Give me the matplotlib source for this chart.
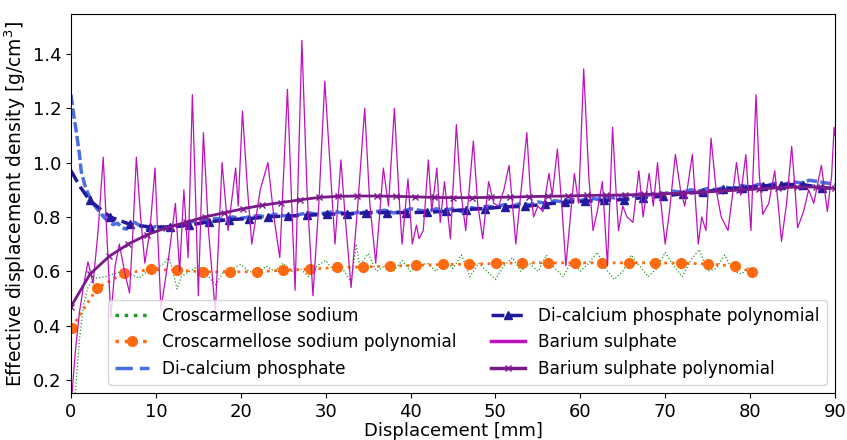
import matplotlib
matplotlib.use("Agg")
import matplotlib.pyplot as plt

# Croscarmellose sodium (raw trace)
cs_x = [0.5, 1.0, 1.5, 2.0, 2.5, 3, 4, 5, 6, 7, 8, 9, 10, 11, 11.5, 12, 12.5, 13, 14, 15,
        16, 17, 18, 19, 20, 21, 22, 23, 24, 25, 26, 27, 28, 29, 30, 31, 32, 33, 33.6, 34,
        35, 36, 37, 38, 39, 40, 41, 42, 43, 44, 45, 46, 47, 48, 49, 50, 51, 52, 53, 54,
        55, 56, 57, 58, 59, 60, 61, 62, 63, 64, 65, 66, 67, 68, 69, 70, 71, 72, 73, 74,
        75, 76, 77, 78, 79, 80]
cs_y = [0.15, 0.35, 0.48, 0.54, 0.565, 0.575, 0.58, 0.59, 0.60, 0.59, 0.575, 0.60, 0.61, 0.63, 0.655, 0.60, 0.535, 0.58, 0.60, 0.62,
        0.59, 0.55, 0.60, 0.61, 0.625, 0.60, 0.59, 0.62, 0.60, 0.63, 0.60, 0.61, 0.58, 0.62, 0.64, 0.60, 0.61, 0.56, 0.70, 0.62,
        0.665, 0.60, 0.62, 0.60, 0.64, 0.60, 0.62, 0.63, 0.60, 0.64, 0.61, 0.66, 0.58, 0.63, 0.60, 0.57, 0.62, 0.65, 0.60, 0.63,
        0.60, 0.66, 0.61, 0.58, 0.64, 0.60, 0.63, 0.67, 0.61, 0.57, 0.60, 0.66, 0.62, 0.58, 0.61, 0.67, 0.62, 0.58, 0.64, 0.68,
        0.60, 0.61, 0.66, 0.60, 0.59, 0.62]

# Croscarmellose sodium polynomial
csp_x = [0.1, 3.1, 6.2, 9.4, 12.5, 15.6, 18.7, 21.9, 25.0, 28.2, 31.3, 34.4, 37.6, 40.7, 43.8,
         46.9, 50.1, 53.1, 56.2, 59.4, 62.5, 65.7, 68.8, 71.9, 75.1, 78.2, 80.2]
csp_y = [0.393, 0.539, 0.592, 0.607, 0.604, 0.598, 0.598, 0.598, 0.604, 0.608, 0.614, 0.616, 0.619, 0.622, 0.625,
         0.626, 0.629, 0.631, 0.631, 0.631, 0.631, 0.631, 0.631, 0.630, 0.627, 0.619, 0.598]

# Di-calcium phosphate (raw trace)
dcp_x = [0, 0.3, 0.6, 1.0, 1.2, 1.6, 2.0, 2.6, 3.2, 4.0, 4.5, 5, 5.5, 6, 6.5, 7, 7.5, 8, 8.9, 9.5,
         10, 11, 12, 13, 14, 15, 16, 17, 18, 19, 20, 21, 22, 23, 24, 25, 26, 27, 28, 29,
         30, 31, 32, 33, 34, 35, 36, 37, 38, 39, 40, 41, 42, 43, 44, 45, 46, 47, 48, 49,
         50, 51, 52, 53, 54, 55, 56, 57, 58, 59, 60, 61, 62, 63, 64, 65, 66, 67, 68, 69,
         70, 71, 72, 73, 74, 75, 76, 77, 78, 79, 80, 81, 82, 83, 84, 85, 86, 87, 88, 89, 90]
dcp_y = [1.25, 1.18, 1.12, 1.03, 0.97, 0.92, 0.886, 0.85, 0.825, 0.795, 0.78, 0.772, 0.777, 0.76, 0.755, 0.77, 0.78, 0.77, 0.757, 0.76,
         0.765, 0.76, 0.77, 0.765, 0.78, 0.79, 0.785, 0.795, 0.79, 0.80, 0.795, 0.80, 0.805, 0.80, 0.81, 0.805, 0.80, 0.81, 0.815, 0.81,
         0.815, 0.82, 0.815, 0.81, 0.82, 0.815, 0.82, 0.825, 0.815, 0.82, 0.83, 0.825, 0.82, 0.83, 0.825, 0.83, 0.82, 0.835, 0.83, 0.84,
         0.835, 0.845, 0.84, 0.85, 0.845, 0.855, 0.85, 0.86, 0.855, 0.865, 0.86, 0.87, 0.865, 0.875, 0.87, 0.88, 0.875, 0.885, 0.88, 0.89,
         0.885, 0.895, 0.89, 0.90, 0.895, 0.905, 0.90, 0.91, 0.905, 0.915, 0.91, 0.92, 0.915, 0.925, 0.92, 0.93, 0.925, 0.935, 0.93, 0.925, 0.92]

# Di-calcium phosphate polynomial
dcpp_x = [0, 1.1, 2.2, 4.6, 6.95, 9.3, 11.7, 13.9, 16.3, 18.6, 21.0, 23.2, 25.6, 27.8, 30.2, 32.5, 34.8, 37.2,
          39.5, 41.9, 44.2, 46.5, 48.8, 51.1, 53.5, 55.8, 58.2, 60.5, 62.8, 65.1, 67.4, 69.8, 72.1, 74.4, 76.8,
          79.1, 81.5, 83.7, 86.2, 88.5, 90]
dcpp_y = [0.97, 0.91, 0.861, 0.80, 0.773, 0.763, 0.763, 0.770, 0.782, 0.790, 0.794, 0.800, 0.804, 0.806, 0.810, 0.812, 0.815, 0.816,
          0.816, 0.817, 0.821, 0.827, 0.831, 0.837, 0.839, 0.847, 0.854, 0.858, 0.861, 0.864, 0.871, 0.876, 0.886, 0.892, 0.902,
          0.908, 0.914, 0.919, 0.919, 0.908, 0.905]

# Barium sulphate (raw trace, peaks and troughs)
bs_x = [0.0, 0.5, 1.0, 1.5, 2.0, 2.6, 3.2, 3.8, 4.2, 4.7, 5.2, 5.7, 6.3, 6.9, 7.3, 7.7, 8.2, 8.7, 9.3, 9.9,
        10.2, 10.6, 11.5, 12.3, 12.8, 13.3, 13.8, 14.3, 14.7, 15.0, 15.6, 16.2, 17.0, 17.8, 18.5, 19.4, 19.7, 20.2, 20.8, 21.3,
        22.3, 23.2, 23.9, 24.6, 25.5, 26.0, 26.4, 27.2, 27.8, 28.5, 29.2, 29.9, 30.5, 31.1, 31.8, 32.3, 33.0, 33.8, 34.6, 35.2,
        35.9, 36.8, 37.4, 38.1, 38.6, 39.0, 39.7, 40.2, 40.7, 41.0, 41.5, 42.1, 42.5, 43.1, 43.5, 44.0, 44.7, 45.4, 45.9, 46.5,
        47.4, 47.9, 48.5, 49.2, 49.8, 50.4, 51.0, 51.6, 52.0, 52.4, 53.7, 54.1, 54.5, 55.0, 55.6, 56.3, 56.7, 57.3, 57.8, 58.3,
        59.3, 59.8, 60.4, 61.0, 61.5, 62.0, 62.6, 63.2, 63.8, 64.2, 64.5, 65.0, 65.5, 66.2, 66.9, 67.4, 68.1, 68.6, 69.1, 69.5,
        70.0, 70.5, 71.2, 71.8, 72.3, 73.2, 73.9, 74.3, 74.8, 75.4, 76.0, 76.6, 77.4, 78.4, 78.9, 79.5, 80.1, 80.7, 81.1, 81.5,
        82.2, 82.9, 83.3, 83.7, 84.3, 84.9, 85.3, 85.6, 86.3, 86.9, 87.5, 88.4, 89.1, 89.6, 89.9, 90.0]
bs_y = [0.10, 0.30, 0.45, 0.55, 0.635, 0.556, 0.75, 1.02, 0.75, 0.43, 0.62, 0.70, 0.60, 0.52, 0.75, 1.02, 0.80, 0.63, 0.75, 0.98,
        0.75, 0.46, 0.65, 0.85, 0.60, 0.90, 0.65, 1.25, 0.85, 0.51, 1.11, 0.75, 0.45, 1.00, 0.75, 0.98, 0.84, 1.19, 0.90, 0.70,
        0.90, 1.00, 0.80, 0.65, 1.27, 0.85, 0.53, 1.45, 0.90, 0.51, 0.85, 1.30, 1.00, 0.70, 1.01, 0.80, 0.54, 0.85, 1.20, 0.85,
        0.63, 0.98, 0.84, 1.20, 0.90, 0.70, 0.94, 0.70, 0.77, 0.72, 0.75, 1.01, 0.82, 0.98, 0.78, 0.93, 0.72, 1.14, 0.90, 0.75,
        1.08, 0.85, 0.72, 0.93, 0.85, 0.84, 0.90, 0.99, 0.85, 0.70, 1.11, 0.90, 0.80, 0.84, 0.82, 0.96, 0.88, 1.05, 0.85, 0.62,
        0.96, 0.85, 1.345, 0.95, 0.75, 0.82, 0.93, 0.62, 1.13, 0.90, 0.75, 0.84, 0.80, 0.78, 0.97, 0.80, 0.96, 0.84, 1.00, 0.85,
        0.70, 0.82, 1.03, 0.90, 0.84, 1.03, 0.70, 0.80, 0.75, 1.09, 0.90, 0.80, 0.75, 1.00, 0.88, 1.03, 0.75, 1.25, 0.95, 0.81,
        0.85, 0.97, 0.85, 0.71, 0.85, 1.06, 0.90, 0.76, 0.82, 0.90, 0.85, 0.99, 0.82, 0.95, 1.13, 1.10]

# Barium sulphate polynomial
bsp_x = [0, 2.25, 4.5, 6.75, 9.0, 11.25, 13.5, 15.75, 18.0, 20.25, 22.5, 24.75, 27.0, 29.25, 31.5, 33.75, 36.0, 38.25,
         40.5, 42.75, 45.0, 47.25, 49.5, 51.75, 54.0, 56.25, 58.5, 60.75, 63.0, 65.25, 67.5, 69.75, 72.0, 74.25, 76.5,
         78.75, 81.0, 83.25, 85.5, 87.75, 90.0]
bsp_y = [0.47, 0.59, 0.655, 0.70, 0.735, 0.76, 0.78, 0.80, 0.815, 0.83, 0.843, 0.853, 0.863, 0.872, 0.876, 0.877, 0.877, 0.876,
         0.874, 0.872, 0.871, 0.871, 0.872, 0.873, 0.875, 0.876, 0.877, 0.879, 0.880, 0.881, 0.883, 0.885, 0.888, 0.891, 0.895,
         0.899, 0.903, 0.907, 0.910, 0.910, 0.905]


def main():
    fig = plt.figure(figsize=(8.47, 4.4), dpi=100)
    ax = fig.add_axes([0.0838, 0.1068, 0.902, 0.8614])

    ax.plot(cs_x, cs_y, ":", color="#1f9a1f", lw=0.9, label="Croscarmellose sodium")
    ax.plot(csp_x, csp_y, ":", color="#ff6a10", lw=2.0, marker="o", ms=7,
            label="Croscarmellose sodium polynomial")
    ax.plot(dcp_x, dcp_y, "--", color="#4a6fe3", lw=2.5, dashes=(3, 1),
            label="Di-calcium phosphate")
    ax.plot(dcpp_x, dcpp_y, "--", color="#221a9c", lw=2.5, marker="^", ms=6,
            markevery=list(range(2, len(dcpp_x) - 1)), label="Di-calcium phosphate polynomial")
    ax.plot(bs_x, bs_y, "-", color="#bf10bf", lw=0.9, label="Barium sulphate")
    ax.plot(bsp_x, bsp_y, "-", color="#7a1a8a", lw=2.0, marker="x", ms=5, mew=1.0,
            label="Barium sulphate polynomial")

    ax.set_xlim(0, 90)
    ax.set_ylim(0.152, 1.547)
    ax.set_xticks(range(0, 91, 10))
    ax.set_yticks([0.2, 0.4, 0.6, 0.8, 1.0, 1.2, 1.4])
    ax.tick_params(labelsize=13)
    ax.set_xlabel("Displacement [mm]", fontsize=13, labelpad=1)
    ax.set_ylabel("Effective displacement density [g/cm$^3$]", fontsize=13.5, labelpad=3)

    leg = ax.legend(ncol=2, loc="lower right", fontsize=12.2, columnspacing=2.0,
                    handlelength=2.0, borderaxespad=0.5)
    for line in leg.get_lines():
        line.set_linewidth(2.5)
    leg.get_lines()[2].set_dashes((5, 2))

    fig.savefig("out.png", dpi=100)
    plt.close(fig)


if __name__ == "__main__":
    main()
